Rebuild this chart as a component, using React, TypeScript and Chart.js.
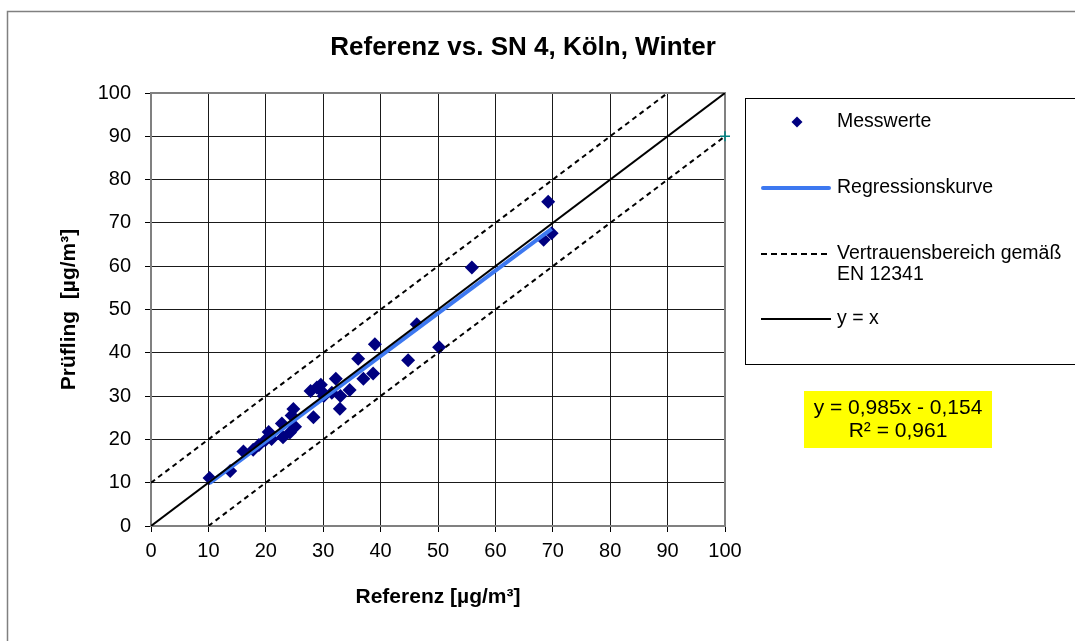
import React, { useEffect, useRef } from "react";
import { Chart, registerables } from "chart.js";

Chart.register(...registerables);

const FONT = "'Liberation Sans', Arial, sans-serif";

// ---- text ----
const chartTitle = "Referenz vs. SN 4, Köln, Winter";
const xAxisTitle = "Referenz [µg/m³]";
const yAxisTitle = "Prüfling  [µg/m³]";
const legendMeasured = "Messwerte";
const legendRegression = "Regressionskurve";
const legendBand = ["Vertrauensbereich gemäß", "EN 12341"];
const legendIdentity = "y = x";
const equationLines = ["y = 0,985x - 0,154", "R² = 0,961"];

// ---- axis ticks ----
const axisTicks = [0, 10, 20, 30, 40, 50, 60, 70, 80, 90, 100];

// ---- measured values (Referenz vs. Prüfling) ----
const referenceValues = [
  10.2, 13.8, 16.1, 17.8, 18.8, 19.9, 20.5, 21.0, 23.0, 22.8, 24.2, 24.5,
  24.8, 25.1, 28.3, 27.8, 28.9, 29.6, 29.8, 30.1, 31.5, 32.2, 33.0, 32.9,
  34.6, 36.1, 37.0, 38.7, 39.0, 44.8, 46.3, 50.2, 55.9, 68.4, 69.8, 69.2,
];
const candidateValues = [
  11.1, 12.7, 17.2, 17.6, 18.7, 19.8, 21.7, 20.1, 20.5, 23.7, 21.6, 25.5,
  27.0, 22.9, 25.1, 31.2, 32.0, 32.6, 31.0, 30.0, 30.8, 34.0, 30.0, 27.1,
  31.4, 38.6, 34.0, 35.2, 42.0, 38.3, 46.6, 41.3, 59.7, 66.1, 67.6, 74.9,
];

// ---- regression ----
const regressionSlope = 0.985;
const regressionIntercept = -0.154;

// ---- reference lines ----
const identityX = [0, 100];
const bandOffset = 10;
const upperBandX = [0, 90];
const lowerBandX = [10, 100];
const endMarkerX = [100];
const endMarkerY = [90];

const NAVY = "#000080";
const BLUE = "#3D78F0";
const TEAL = "#008080";

const framePlugin = {
  id: "frame",
  beforeDatasetsDraw(chart: any) {
    const { ctx, chartArea: a } = chart;
    ctx.save();
    ctx.strokeStyle = "#808080";
    ctx.lineWidth = 2;
    ctx.strokeRect(a.left, a.top, a.right - a.left, a.bottom - a.top);
    ctx.restore();
  },
};

const decorPlugin = {
  id: "decor",
  afterDraw(chart: any) {
    const ctx = chart.ctx;
    ctx.save();
    // outer chart border
    ctx.strokeStyle = "#808080";
    ctx.lineWidth = 1.5;
    ctx.strokeRect(7.5, 11.5, 1200, 800);

    // title
    ctx.fillStyle = "#000";
    ctx.font = `bold 26px ${FONT}`;
    ctx.textAlign = "center";
    ctx.textBaseline = "middle";
    ctx.fillText(chartTitle, 523, 48);

    // legend box
    ctx.strokeStyle = "#000";
    ctx.lineWidth = 1;
    ctx.strokeRect(745.5, 98.5, 400, 266);

    ctx.font = `19.5px ${FONT}`;
    ctx.textAlign = "left";
    ctx.textBaseline = "middle";
    const tx = 837;
    const lx0 = 761;
    const lx1 = 831;

    // Messwerte
    const mx = 797, my = 122, r = 5.5;
    ctx.fillStyle = NAVY;
    ctx.beginPath();
    ctx.moveTo(mx - r, my);
    ctx.lineTo(mx, my - r);
    ctx.lineTo(mx + r, my);
    ctx.lineTo(mx, my + r);
    ctx.closePath();
    ctx.fill();
    ctx.fillStyle = "#000";
    ctx.fillText(legendMeasured, tx, 122);

    // Regression
    ctx.strokeStyle = BLUE;
    ctx.lineWidth = 4;
    ctx.lineCap = "round";
    ctx.beginPath();
    ctx.moveTo(lx0 + 2, 188);
    ctx.lineTo(lx1 - 2, 188);
    ctx.stroke();
    ctx.lineCap = "butt";
    ctx.fillText(legendRegression, tx, 188);

    // band
    ctx.strokeStyle = "#000";
    ctx.lineWidth = 2;
    ctx.setLineDash([6, 4]);
    ctx.beginPath();
    ctx.moveTo(lx0, 254);
    ctx.lineTo(lx1, 254);
    ctx.stroke();
    ctx.setLineDash([]);
    ctx.fillText(legendBand[0], tx, 254);
    ctx.fillText(legendBand[1], tx, 275);

    // identity
    ctx.beginPath();
    ctx.moveTo(lx0, 319);
    ctx.lineTo(lx1, 319);
    ctx.stroke();
    ctx.fillText(legendIdentity, tx, 319);

    // equation box
    ctx.fillStyle = "#FFFF00";
    ctx.fillRect(804, 391, 188, 57);
    ctx.fillStyle = "#000";
    ctx.font = `21px ${FONT}`;
    ctx.textAlign = "center";
    ctx.fillText(equationLines[0], 898, 408);
    ctx.fillText(equationLines[1], 898, 431);
    ctx.restore();
  },
};

export default function App() {
  const ref = useRef<HTMLCanvasElement>(null);

  useEffect(() => {
    const canvas = ref.current;
    if (!canvas) return;

    const measured = referenceValues.map((x, i) => ({ x, y: candidateValues[i] }));
    const xMin = Math.min(...referenceValues);
    const xMax = Math.max(...referenceValues);
    const regression = [xMin, xMax].map((x) => ({
      x,
      y: regressionSlope * x + regressionIntercept,
    }));
    const identity = identityX.map((x) => ({ x, y: x }));
    const upper = upperBandX.map((x) => ({ x, y: x + bandOffset }));
    const lower = lowerBandX.map((x) => ({ x, y: x - bandOffset }));
    const endMarker = endMarkerX.map((x, i) => ({ x, y: endMarkerY[i] }));

    const tickFont = { family: FONT, size: 20 };
    const titleFont = { family: FONT, size: 21, weight: "bold" as const };

    const chart = new Chart(canvas, {
      type: "scatter",
      data: {
        datasets: [
          {
            label: legendIdentity,
            data: identity,
            showLine: true,
            borderColor: "#000",
            borderWidth: 2,
            pointRadius: 0,
            order: 0,
          },
          {
            label: legendRegression,
            data: regression,
            showLine: true,
            borderColor: BLUE,
            borderWidth: 4,
            pointRadius: 0,
            order: 1,
          },
          {
            label: legendBand[0],
            data: upper,
            showLine: true,
            borderColor: "#000",
            borderWidth: 2,
            borderDash: [5, 4],
            pointRadius: 0,
            order: 2,
          },
          {
            label: legendBand[0] + " (unten)",
            data: lower,
            showLine: true,
            borderColor: "#000",
            borderWidth: 2,
            borderDash: [5, 4],
            pointRadius: 0,
            order: 3,
          },
          {
            label: legendMeasured,
            data: measured,
            pointStyle: "rectRot",
            pointRadius: 7,
            backgroundColor: NAVY,
            borderColor: NAVY,
            borderWidth: 0,
            order: 5,
          },
          {
            label: "Ende",
            data: endMarker,
            pointStyle: "cross",
            pointRadius: 5,
            borderColor: TEAL,
            borderWidth: 1.5,
            clip: false as any,
            order: 6,
          },
        ],
      },
      options: {
        responsive: false,
        animation: false,
        devicePixelRatio: 1,
        events: [],
        layout: { padding: { left: 8, top: 93, right: 350, bottom: 0 } },
        plugins: {
          legend: { display: false },
          tooltip: { enabled: false },
          title: { display: false },
        },
        scales: {
          x: {
            type: "linear",
            min: 0,
            max: 100,
            afterBuildTicks: (s: any) => {
              s.ticks = axisTicks.map((v) => ({ value: v }));
            },
            afterFit: (s: any) => {
              s.height = 115;
            },
            ticks: {
              color: "#000",
              font: tickFont,
              padding: 7,
              maxRotation: 0,
              autoSkip: false,
            },
            grid: { color: "#1a1a1a", lineWidth: 1, tickLength: 6, tickColor: "#000" },
            border: { display: false },
            title: {
              display: true,
              text: xAxisTitle,
              color: "#000",
              font: titleFont,
              padding: { top: 0, bottom: 31 },
            },
          },
          y: {
            type: "linear",
            min: 0,
            max: 100,
            afterBuildTicks: (s: any) => {
              s.ticks = axisTicks.map((v) => ({ value: v }));
            },
            afterFit: (s: any) => {
              s.width = 143;
            },
            ticks: {
              color: "#000",
              font: tickFont,
              padding: 14,
              autoSkip: false,
            },
            grid: { color: "#1a1a1a", lineWidth: 1, tickLength: 6, tickColor: "#000" },
            border: { display: false },
            title: {
              display: true,
              text: yAxisTitle,
              color: "#000",
              font: titleFont,
              padding: { top: 49, bottom: 0 },
            },
          },
        },
      },
      plugins: [framePlugin, decorPlugin],
    });

    return () => chart.destroy();
  }, []);

  return (
    <canvas
      ref={ref}
      width={1075}
      height={641}
      style={{ position: "fixed", left: 0, top: 0, width: 1075, height: 641, background: "#fff" }}
    />
  );
}
